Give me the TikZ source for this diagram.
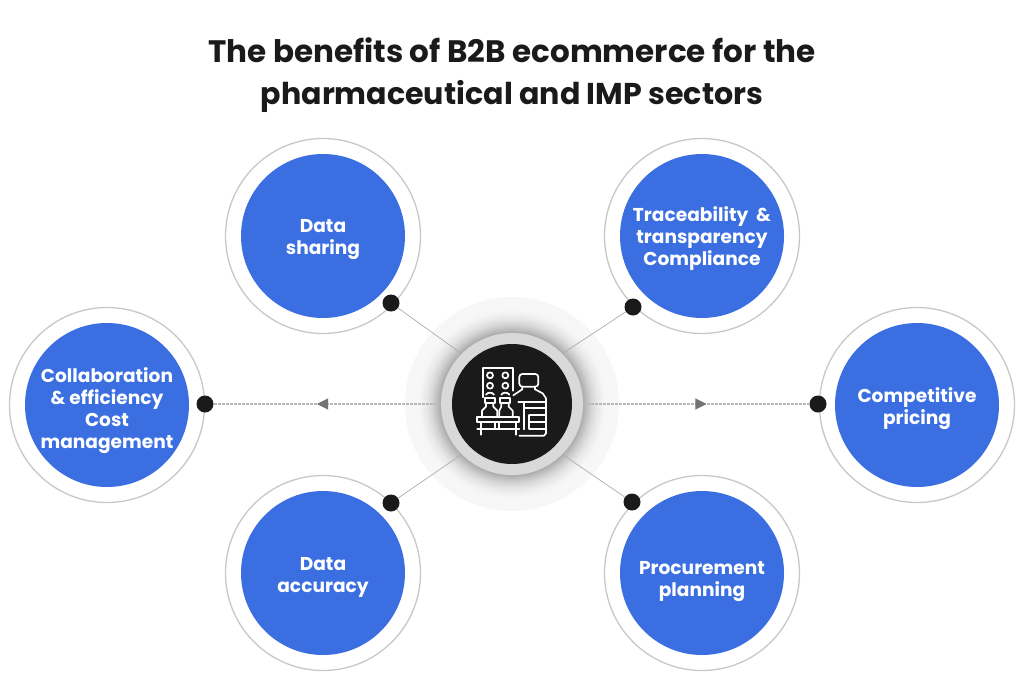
\documentclass[tikz,border=0pt]{standalone}
\usepackage{fontspec}
\setmainfont{Poppins}[BoldFont=Poppins Bold]
\usetikzlibrary{arrows.meta,decorations.markings}
\definecolor{blueA}{HTML}{3B6FE1}
\definecolor{inkA}{HTML}{1A1A1A}
\definecolor{ringA}{HTML}{C8C8C8}
\definecolor{hubA}{HTML}{D9D9D9}
\newcommand{\btxt}[2]{\raisebox{-#1pt}[\height][\depth]{\begin{tabular}{@{}c@{}}#2\end{tabular}}}
\tikzset{
  benefit/.style={circle,fill=blueA,minimum size=164pt,inner sep=0pt,text=white,font=\bfseries\fontsize{18.6}{22}\selectfont},
  ringo/.style={circle,draw=ringA,line width=1.3pt,fill=white,minimum size=195pt,inner sep=0pt},
  dotn/.style={circle,fill=inkA,minimum size=17pt,inner sep=0pt},
  link/.style={draw=black!32,line width=.7pt},
  hlink/.style={draw=black!28,line width=1.1pt,dash pattern=on 3pt off 1pt,postaction={decorate}},
  midarrow/.style={decoration={markings,mark=at position .545 with {\arrow[black!55,solid]{#1}}}},
  titlet/.style={font=\bfseries\fontsize{30}{42}\selectfont,text=inkA,align=center},
  iconl/.style={draw=white,line width=1.7pt,line cap=round,line join=round}
}
\begin{document}
\begin{tikzpicture}[x=1pt,y=-1pt]
\useasboundingbox (0,0) rectangle (1024,683);
\fill[white] (0,0) rectangle (1024,683);
\node[titlet] (title) at (512,75) {\fontsize{31}{42}\selectfont The benefits of B2B ecommerce for the\\\fontsize{30.1}{42}\selectfont pharmaceutical and IMP sectors};
% rings
\node[ringo] (r1) at (323,236) {};
\node[ringo] (r2) at (702,236) {};
\node[ringo] (r3) at (917,405) {};
\node[ringo] (r4) at (702,573) {};
\node[ringo] (r5) at (323,573) {};
\node[ringo] (r6) at (107,405) {};
\node[benefit] (b1) at (323,236) {\btxt{3}{Data\\sharing}};
\node[benefit] (b2) at (702,236) {\btxt{3}{Traceability \ \&\\transparency\\Compliance}};
\node[benefit] (b3) at (917,405) {\btxt{4}{Competitive\\pricing}};
\node[benefit] (b4) at (702,573) {\btxt{8}{Procurement\\planning}};
\node[benefit] (b5) at (323,573) {\btxt{4}{Data\\accuracy}};
\node[benefit] (b6) at (107,405) {\btxt{6}{Collaboration\\\&\ efficiency\\Cost\\management}};
% halo
\fill[black!3] (512,404) circle (107);
\foreach \rr in {98,97,...,72}{
  \pgfmathsetmacro{\pp}{3+29*((98-\rr)/26)^2}
  \fill[black!\pp] (512,404) circle (\rr);
}
\node[circle,fill=hubA,minimum size=142pt,inner sep=0pt] (hub) at (512,404) {};
\node[circle,fill=inkA,minimum size=120pt,inner sep=0pt] (core) at (512,404) {};
% dots
\node[dotn] (d1) at (391,303) {};
\node[dotn] (d2) at (633,307) {};
\node[dotn] (d3) at (818,404) {};
\node[dotn] (d4) at (632,502) {};
\node[dotn] (d5) at (391,503) {};
\node[dotn] (d6) at (205,404) {};
% connectors
\draw[link] (hub.135) -- (d1);
\draw[link] (hub.45) -- (d2);
\draw[link] (hub.-45) -- (d4);
\draw[link] (hub.-135) -- (d5);
\draw[hlink,midarrow={Triangle[length=11pt,width=11pt]}] (hub) -- (d3);
\draw[hlink,midarrow={Triangle[length=11pt,width=11pt]}] (hub) -- (d6);
% icon
\begin{scope}[shift={(400,290)},x=0.3333pt,y=-0.3333pt,iconl]
\draw (248,322) -- (248,233) -- (340,233) -- (340,302);
\foreach \px/\py in {270/256,316/256,270/287,316/287} \draw (\px,\py) circle (9);
\draw (258,314) .. controls (263,306) and (277,306) .. (282,314);
\draw (304,314) .. controls (309,306) and (323,306) .. (328,314);
\draw (254,324) rectangle (284,340);
\draw (300,324) rectangle (330,340);
\draw (258,340) -- (258,350) -- (246,362) -- (246,378);
\draw (280,340) -- (280,350) -- (292,362) -- (292,378);
\draw (304,340) -- (304,350) -- (298,362) -- (298,378);
\draw (326,340) -- (326,350) -- (338,362) -- (338,378);
\draw (232,381) -- (358,381) -- (358,397) -- (232,397) -- cycle;
\draw (232,418) -- (358,418);
\draw (243,397) -- (243,434);
\draw (286,397) -- (286,418);
\draw (296,397) -- (296,418);
\draw (347,397) -- (347,434);
\draw[rounded corners=3pt] (358,252) -- (415,252) -- (415,290) -- (358,290) -- cycle;
\draw (367,290) -- (367,298) -- (340,316);
\draw (405,290) -- (405,298) -- (428,310) -- (438,325) -- (438,430) -- (432,437) -- (358,437);
\draw (355,335) -- (438,335);
\draw (372,335) -- (372,418);
\draw (372,355) -- (438,355);
\draw (388,376) -- (438,376);
\draw (388,376) -- (388,417) -- (438,417);
\draw (388,396) -- (438,396);
\end{scope}
\end{tikzpicture}
\end{document}
